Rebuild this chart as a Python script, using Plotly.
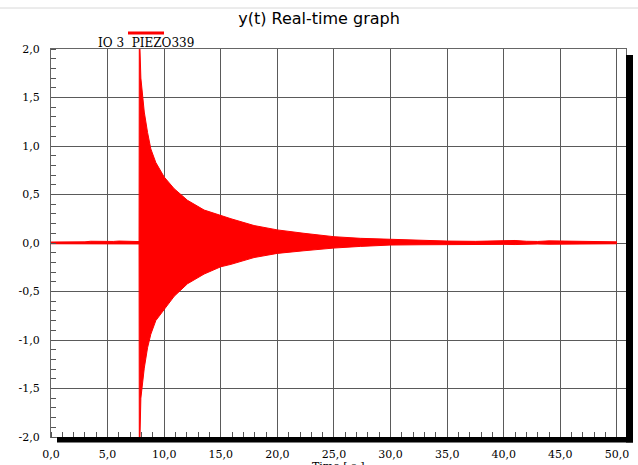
import plotly.graph_objects as go

# ---- data ----
t_env = [0.0, 1.0, 2.0, 3.0, 3.5, 4.0, 4.5, 5.0, 5.5, 6.0, 6.5, 7.0, 7.5, 7.78,
         7.80, 7.86, 7.94, 8.24, 8.53, 8.82, 9.26, 10.0, 10.88, 12.06, 13.53,
         15.0, 15.9, 17.94, 20.0, 22.35, 25.0, 27.35, 30.0, 32.6, 35.0, 37.5,
         40.0, 41.0, 42.0, 43.0, 44.0, 45.0, 47.5, 50.0]
upper_env = [0.010, 0.010, 0.010, 0.012, 0.018, 0.016, 0.020, 0.018, 0.016, 0.020,
             0.018, 0.020, 0.016, 0.015,
             2.0, 2.0, 1.70, 1.35, 1.14, 0.97, 0.83, 0.68, 0.56, 0.44, 0.34,
             0.28, 0.25, 0.18, 0.135, 0.10, 0.065, 0.048, 0.037, 0.027, 0.020, 0.017,
             0.022, 0.026, 0.018, 0.016, 0.022, 0.020, 0.016, 0.012]
lower_env = [-0.008, -0.008, -0.008, -0.010, -0.014, -0.012, -0.015, -0.014, -0.012, -0.015,
             -0.013, -0.015, -0.012, -0.010,
             -2.0, -2.0, -1.60, -1.29, -1.08, -0.94, -0.80, -0.68, -0.55, -0.42, -0.32,
             -0.245, -0.22, -0.15, -0.107, -0.08, -0.052, -0.035, -0.021, -0.018, -0.015, -0.012,
             -0.014, -0.016, -0.012, -0.010, -0.013, -0.012, -0.010, -0.008]

x_tickvals = [0, 5, 10, 15, 20, 25, 30, 35, 40, 45, 50]
x_ticktext = ["0,0", "5,0", "10,0", "15,0", "20,0", "25,0", "30,0", "35,0", "40,0", "45,0", "50,0"]
y_tickvals = [2.0, 1.5, 1.0, 0.5, 0.0, -0.5, -1.0, -1.5, -2.0]
y_ticktext = ["2,0", "1,5", "1,0", "0,5", "0,0", "-0,5", "-1,0", "-1,5", "-2,0"]

title_text = "y(t) Real-time graph"
series_name = "IO 3  PIEZO339"
x_title = "Time [ s ]"

RED = "#ff0000"
GRID = "#5a5a5a"
SERIF = "DejaVu Serif"

fig = go.Figure()
fig.add_trace(go.Scatter(x=t_env, y=upper_env, mode="lines",
                         line=dict(color=RED, width=1), showlegend=False,
                         hoverinfo="skip"))
fig.add_trace(go.Scatter(x=t_env, y=lower_env, mode="lines",
                         line=dict(color=RED, width=1), fill="tonexty",
                         fillcolor=RED, showlegend=False, hoverinfo="skip"))

W, H = 638, 465
L, R, T, B = 51, 12, 49, 28
pw, ph = W - L - R, H - T - B

def px(xp):
    return (xp - L) / pw

def py(yp):
    return (H - B - yp) / ph

fig.update_layout(
    width=W, height=H,
    margin=dict(l=L, r=R, t=T, b=B, autoexpand=False),
    paper_bgcolor="white", plot_bgcolor="white",
    showlegend=False,
    title=dict(text=title_text, x=0.5, xref="container", xanchor="center",
               y=1 - 18 / H, yref="container", yanchor="middle",
               font=dict(family="DejaVu Sans", size=16, color="black"),
               automargin=False),
    xaxis=dict(range=[0, 50.8], tickmode="array", tickvals=x_tickvals, ticktext=x_ticktext,
               automargin=False,
               showgrid=True, gridcolor=GRID, gridwidth=1, zeroline=False,
               showline=True, linecolor="#666", linewidth=1, mirror=True,
               ticks="", ticklabelstandoff=7,
               minor=dict(tickmode="linear", tick0=0, dtick=1, ticks="inside",
                          ticklen=5, tickcolor="#555", showgrid=False),
               tickfont=dict(family=SERIF, size=11, color="black")),
    yaxis=dict(range=[-2, 2], tickmode="array", tickvals=y_tickvals, ticktext=y_ticktext,
               automargin=False,
               showgrid=True, gridcolor=GRID, gridwidth=1, zeroline=False,
               showline=True, linecolor="#666", linewidth=1, mirror=True,
               ticks="", ticklabelstandoff=8,
               minor=dict(tickmode="linear", tick0=0, dtick=0.1, ticks="inside",
                          ticklen=5, tickcolor="#555", showgrid=False),
               tickfont=dict(family=SERIF, size=11, color="black")),
    shapes=[
        # drop shadow (bottom and right)
        dict(type="rect", xref="paper", yref="paper", x0=px(57), x1=px(633),
             y0=py(442.5), y1=py(437), fillcolor="black", line=dict(width=0), layer="above"),
        dict(type="rect", xref="paper", yref="paper", x0=px(626), x1=px(633),
             y0=py(442.5), y1=py(55), fillcolor="black", line=dict(width=0), layer="above"),
        # legend swatch
        dict(type="line", xref="paper", yref="paper", x0=px(128), x1=px(164),
             y0=py(33), y1=py(33), line=dict(color=RED, width=3)),
        # thin separator line at top of the page
        dict(type="line", xref="paper", yref="paper", x0=px(0), x1=px(W),
             y0=py(8), y1=py(8), line=dict(color="#d8d8d8", width=1)),
    ],
    annotations=[
        dict(text=series_name, xref="paper", yref="paper", x=px(146), y=py(43),
             xanchor="center", yanchor="middle", showarrow=False,
             font=dict(family=SERIF, size=12, color="black")),
        dict(text=x_title, xref="paper", yref="paper", x=px(338), y=py(458),
             xanchor="center", yanchor="top", showarrow=False,
             font=dict(family=SERIF, size=11, color="black")),
    ],
)

fig.write_html("out.html", config={"displayModeBar": False},
               post_script="document.body.style.margin='0';document.body.style.padding='0';")
